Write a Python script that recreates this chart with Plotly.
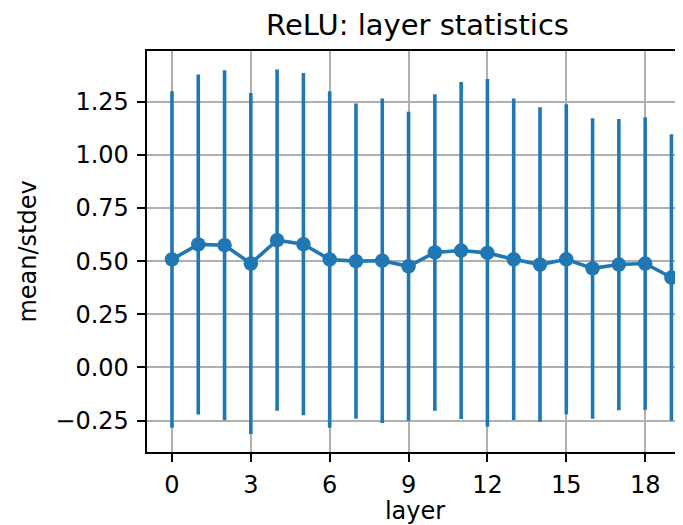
import plotly.graph_objects as go

layers = list(range(20))
means = [0.508, 0.579, 0.575, 0.489, 0.599, 0.580, 0.508, 0.500, 0.502, 0.476,
         0.541, 0.550, 0.539, 0.509, 0.484, 0.509, 0.466, 0.484, 0.489, 0.423]
stdevs = [0.792, 0.800, 0.824, 0.802, 0.803, 0.805, 0.792, 0.742, 0.764, 0.727,
          0.745, 0.793, 0.818, 0.757, 0.740, 0.729, 0.707, 0.685, 0.688, 0.674]
x_ticks = [0, 3, 6, 9, 12, 15, 18]
y_ticks = [-0.25, 0.0, 0.25, 0.5, 0.75, 1.0, 1.25]
y_tick_labels = ["\u22120.25", "0.00", "0.25", "0.50", "0.75", "1.00", "1.25"]

blue = "#1f77b4"
font = "DejaVu Sans"

fig = go.Figure()
fig.add_trace(go.Scatter(
    x=layers, y=means, mode="lines+markers",
    line=dict(color=blue, width=3.6),
    marker=dict(color=blue, size=14.5),
    error_y=dict(type="data", array=stdevs, visible=True, color=blue,
                 thickness=3.6, width=0),
    showlegend=False,
))

fig.update_layout(
    width=675, height=517,
    margin=dict(l=139, r=0, t=43, b=73),
    paper_bgcolor="white", plot_bgcolor="white",
    font=dict(family=font, size=24, color="black"),
    title=dict(text="ReLU: layer statistics", x=0.6067, xref="container",
               xanchor="center", y=0.967, yanchor="middle",
               font=dict(family=font, size=29, color="black")),
    xaxis=dict(
        range=[-0.95, 19.44], tickvals=x_ticks,
        showgrid=True, gridcolor="#b0b0b0", gridwidth=1.9,
        showline=True, linecolor="black", linewidth=1.9, mirror=True,
        ticks="outside", ticklen=8.4, tickwidth=1.9, tickcolor="black",
        ticklabelstandoff=2,
        zeroline=False,
        title=dict(text="layer", standoff=6, font=dict(size=24)),
        tickfont=dict(size=24),
    ),
    yaxis=dict(
        range=[-0.398, 1.489], tickvals=y_ticks, ticktext=y_tick_labels,
        showgrid=True, gridcolor="#b0b0b0", gridwidth=1.9,
        showline=True, linecolor="black", linewidth=1.9, mirror=False,
        ticks="outside", ticklen=8.4, tickwidth=1.9, tickcolor="black",
        ticklabelstandoff=3,
        zeroline=False,
        title=dict(text="mean/stdev", standoff=12, font=dict(size=24)),
        tickfont=dict(size=24),
    ),
)

fig.write_html("out.html")
